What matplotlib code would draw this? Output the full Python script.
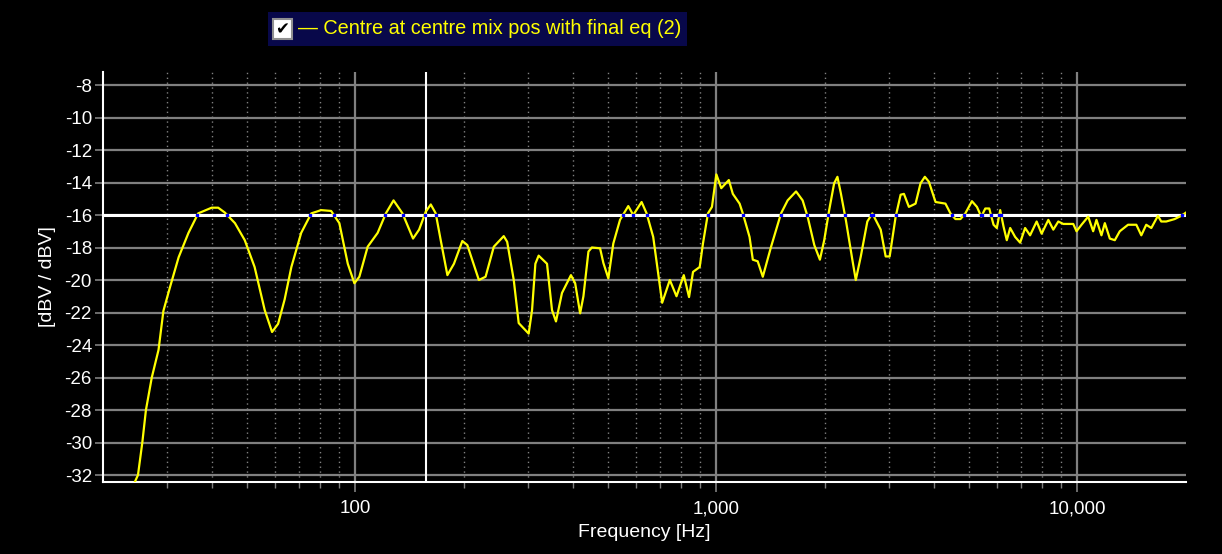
import matplotlib
matplotlib.use("Agg")
import matplotlib.pyplot as plt
from matplotlib.patches import Rectangle
import numpy as np

# response curve (Hz, dBV)
freq = [24.5, 25.0, 25.7, 26.3, 27.3, 28.5, 29.4, 30.7, 32.4, 34.5,
        36.7, 40.0, 41.7, 43.5, 46.4, 49.4, 52.6, 56.1, 58.8, 61.1,
        63.7, 66.5, 70.8, 75.5, 80.4, 85.7, 90.3, 95.3, 99.4, 102.6,
        108.2, 115.3, 121.5, 127.6, 135.1, 144.5, 150.2, 156.7, 161.8, 167.0,
        172.4, 179.9, 187.6, 197.9, 204.3, 219.9, 229.5, 241.9, 257.7, 263.4,
        274.7, 283.5, 302.1, 308.7, 315.3, 322.0, 339.6, 350.6, 359.6, 373.6,
        395.6, 406.4, 419.5, 428.4, 442.3, 452.0, 476.4, 486.5, 502.2, 518.4,
        541.0, 570.3, 588.7, 620.9, 641.0, 668.6, 690.2, 707.9, 743.3, 775.7,
        812.5, 840.3, 861.9, 899.4, 918.4, 948.0, 972.5, 1000, 1032, 1083,
        1111, 1160, 1184, 1236, 1262, 1302, 1345, 1418, 1511, 1576,
        1663, 1734, 1790, 1868, 1936, 1990, 2054, 2120, 2165, 2212,
        2284, 2381, 2434, 2513, 2620, 2705, 2853, 2945, 3021, 3139,
        3240, 3309, 3415, 3564, 3679, 3781, 3879, 4048, 4312, 4452,
        4596, 4745, 4895, 5106, 5271, 5420, 5559, 5702, 5860, 5984,
        6115, 6244, 6377, 6516, 6726, 6943, 7167, 7398, 7715, 7964,
        8311, 8579, 8857, 9143, 9743, 9950, 10270, 10717, 11063, 11298,
        11663, 11918, 12303, 12700, 13110, 13820, 14570, 15040, 15520, 16030,
        16720, 17080, 17630, 18600, 19400, 20000]
level = [-32.43, -32.0, -30.0, -28.0, -26.0, -24.3, -21.9, -20.4, -18.6, -17.1,
         -15.9, -15.55, -15.55, -15.85, -16.5, -17.55, -19.2, -21.85, -23.2, -22.7,
         -21.2, -19.2, -17.1, -15.9, -15.7, -15.75, -16.5, -19.0, -20.2, -19.8,
         -17.95, -17.1, -15.9, -15.1, -15.9, -17.45, -16.9, -15.8, -15.35, -15.9,
         -17.55, -19.7, -19.0, -17.6, -17.85, -20.0, -19.8, -17.95, -17.3, -17.65,
         -20.0, -22.65, -23.3, -21.85, -19.0, -18.5, -19.0, -21.85, -22.55, -20.8,
         -19.7, -20.2, -22.05, -21.0, -18.25, -18.0, -18.05, -18.95, -19.9, -17.75,
         -16.3, -15.45, -16.0, -15.2, -15.9, -17.35, -19.6, -21.4, -20.0, -21.0,
         -19.7, -21.05, -19.5, -19.2, -17.75, -15.9, -15.5, -13.5, -14.35, -13.85,
         -14.7, -15.3, -15.9, -17.35, -18.75, -18.85, -19.8, -17.95, -15.9, -15.1,
         -14.55, -15.1, -16.1, -17.85, -18.75, -17.55, -15.7, -14.05, -13.65, -14.65,
         -16.3, -18.75, -20.0, -18.55, -16.4, -15.9, -16.9, -18.55, -18.55, -16.1,
         -14.75, -14.7, -15.5, -15.3, -14.05, -13.65, -13.95, -15.2, -15.3, -15.9,
         -16.25, -16.25, -15.9, -15.15, -15.5, -16.1, -15.6, -15.6, -16.6, -16.8,
         -15.7, -16.7, -17.55, -16.8, -17.35, -17.7, -16.8, -17.25, -16.4, -17.15,
         -16.3, -16.9, -16.4, -16.55, -16.55, -17.0, -16.6, -16.1, -17.0, -16.3,
         -17.25, -16.5, -17.45, -17.55, -17.0, -16.6, -16.6, -17.25, -16.6, -16.8,
         -16.05, -16.4, -16.4, -16.25, -16.05, -15.85]

y_ticks = list(range(-32, -7, 2))
x_ticks = [100, 1000, 10000]
x_tick_labels = ["100", "1,000", "10,000"]
ref_level = -16.0
cursor_freq = 156.7
legend_label = "\u2014 Centre at centre mix pos with final eq (2)"

W, H = 1222, 554
fig = plt.figure(figsize=(W / 100, H / 100), dpi=100, facecolor="black")
ax = fig.add_axes([103 / W, 1 - 482 / H, (1186 - 103) / W, (482 - 72) / H])
ax.set_facecolor("black")

font = "Liberation Sans"
grid_c = "#808080"

ax.set_xscale("log")
ax.set_xlim(20, 20000)
ax.set_ylim(-32.43, -7.2)

# grid
for yt in y_ticks:
    ax.axhline(yt, color=grid_c, lw=1.6, zorder=1)
minor = [m * 10 ** e for e in range(1, 5) for m in range(2, 10)]
minor = [m for m in minor if 20 < m < 20000]
for xm in minor:
    ax.axvline(xm, color=grid_c, lw=1.0, ls=(0, (1, 2.5)), zorder=1)
for xt in x_ticks:
    ax.axvline(xt, color=grid_c, lw=1.6, zorder=1)

# cursors
ax.axhline(ref_level, color="white", lw=2.2, zorder=2)
ax.axvline(cursor_freq, color="white", lw=1.5, zorder=2)

ax.plot(freq, level, color="#ffff00", lw=1.6, zorder=3)

# small blue marks where the curve crosses the reference level
f = np.log10(freq)
l = np.array(level) - ref_level
cross = []
for i in range(len(l) - 1):
    if l[i] == 0 or l[i] * l[i + 1] < 0:
        t = 0 if l[i] == 0 else l[i] / (l[i] - l[i + 1])
        cross.append(10 ** (f[i] + t * (f[i + 1] - f[i])))
ax.plot(cross, [ref_level] * len(cross), ls="none", marker="s", ms=1.5,
        color="#0000ff", zorder=4)

ax.set_yticks(y_ticks)
ax.set_yticklabels([str(v) for v in y_ticks])
ax.set_xticks(x_ticks)
ax.set_xticklabels(x_tick_labels)
ax.set_xticks(minor, minor=True)
ax.xaxis.set_minor_formatter(plt.NullFormatter())

ax.tick_params(axis="both", which="major", colors=grid_c, labelcolor="white",
               labelsize=13.5, width=1.2)
ax.tick_params(axis="y", length=6, pad=2)
ax.tick_params(axis="x", which="major", length=7, pad=6)
ax.tick_params(axis="x", which="minor", colors=grid_c, length=4, width=1.0)
for lab in ax.get_xticklabels() + ax.get_yticklabels():
    lab.set_family(font)

for s in ["top", "right"]:
    ax.spines[s].set_visible(False)
for s in ["left", "bottom"]:
    ax.spines[s].set_color("white")
    ax.spines[s].set_linewidth(1.5)

ax.set_xlabel("Frequency [Hz]", color="white", fontsize=14, family=font, labelpad=5)
ax.set_ylabel("[dBV / dBV]", color="white", fontsize=14, family=font, labelpad=6)

# legend box
fig.patches.append(Rectangle((268 / W, 1 - 46 / H), (687 - 268) / W, 34 / H,
                             transform=fig.transFigure, facecolor="#08084a",
                             edgecolor="none", zorder=0))
fig.patches.append(Rectangle((273 / W, 1 - 39 / H), 19 / W, 20 / H,
                             transform=fig.transFigure, facecolor="white",
                             edgecolor="#909090", lw=1.5, zorder=1))
fig.text(282.5 / W, 1 - 29 / H, "\u2714", color="black", fontsize=12,
         family="DejaVu Sans", ha="center", va="center")
fig.text(298 / W, 1 - 29 / H, legend_label, color="#ffff00", fontsize=14.3,
         family=font, ha="left", va="center")

fig.savefig("out.png", dpi=100, facecolor="black")
